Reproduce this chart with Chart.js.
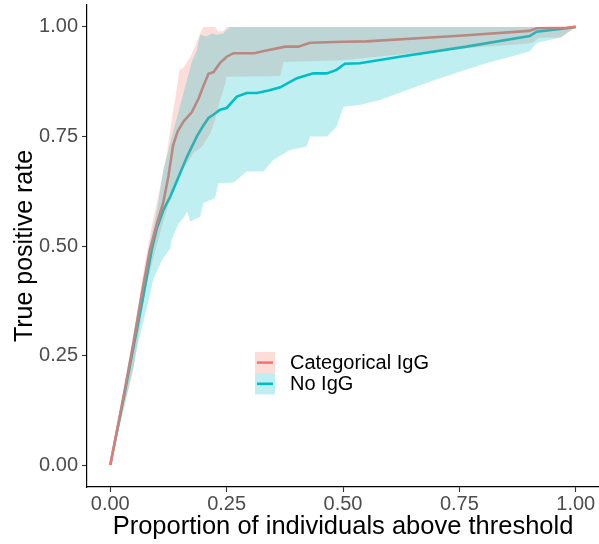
<!DOCTYPE html>
<html><head><meta charset="utf-8">
<script src="https://cdn.jsdelivr.net/npm/chart.js@4.4.1/dist/chart.umd.min.js"></script>
<style>html,body{margin:0;padding:0;background:#fff;}canvas{display:block}</style>
</head><body>
<canvas id="c" width="599" height="544" style="width:599px;height:544px"></canvas>
<script>
const seriesNames = ['Categorical IgG', 'No IgG'];
const xTicks = [0, 0.25, 0.5, 0.75, 1];
const yTicks = [0, 0.25, 0.5, 0.75, 1];
const xTitle = 'Proportion of individuals above threshold';
const yTitle = 'True positive rate';

// Categorical IgG: curve and band
const catLine = [[0,0],[0.03,0.165],[0.05,0.28],[0.07,0.405],[0.085,0.49],[0.1,0.55],[0.114,0.6],[0.125,0.66],[0.135,0.73],[0.145,0.762],[0.158,0.785],[0.175,0.805],[0.19,0.837],[0.2,0.865],[0.211,0.893],[0.222,0.897],[0.236,0.918],[0.25,0.932],[0.265,0.94],[0.31,0.94],[0.33,0.945],[0.358,0.951],[0.376,0.955],[0.404,0.955],[0.429,0.964],[0.5,0.966],[0.55,0.967],[0.75,0.98],[0.9,0.991],[0.916,0.997],[0.98,0.998],[1,1]];
const catUpper = [[0,0],[0.04,0.235],[0.06,0.365],[0.075,0.465],[0.09,0.55],[0.1,0.598],[0.122,0.712],[0.132,0.788],[0.139,0.833],[0.149,0.902],[0.157,0.906],[0.172,0.932],[0.182,0.955],[0.193,0.985],[0.2,1],[0.225,1],[0.232,0.99],[0.242,0.99],[0.25,1],[1,1]];
const catLower = [[0,0],[0.05,0.22],[0.075,0.4],[0.097,0.491],[0.115,0.56],[0.136,0.636],[0.15,0.665],[0.165,0.689],[0.179,0.712],[0.197,0.727],[0.215,0.757],[0.225,0.788],[0.235,0.83],[0.247,0.871],[0.25,0.886],[0.365,0.888],[0.372,0.92],[0.5,0.924],[0.6,0.935],[0.75,0.95],[0.9,0.962],[0.91,0.966],[0.92,0.975],[0.97,0.976],[1,1]];

// No IgG: curve and band
const noLine = [[0,0],[0.03,0.16],[0.05,0.27],[0.07,0.38],[0.089,0.491],[0.1,0.54],[0.114,0.582],[0.129,0.613],[0.15,0.666],[0.165,0.704],[0.186,0.75],[0.2,0.775],[0.211,0.792],[0.222,0.8],[0.236,0.811],[0.25,0.815],[0.272,0.841],[0.293,0.849],[0.315,0.849],[0.34,0.855],[0.365,0.862],[0.401,0.883],[0.436,0.894],[0.465,0.894],[0.486,0.902],[0.504,0.916],[0.536,0.917],[0.622,0.932],[0.765,0.955],[0.901,0.979],[0.916,0.989],[0.98,0.997],[1,1]];
const noUpper = [[0,0],[0.05,0.3],[0.082,0.491],[0.1,0.58],[0.114,0.674],[0.136,0.765],[0.161,0.864],[0.175,0.92],[0.186,0.947],[0.193,0.982],[0.207,0.978],[0.218,0.985],[0.229,0.982],[0.243,0.985],[0.25,0.993],[0.257,1],[1,1]];
const noLower = [[0,0],[0.05,0.224],[0.061,0.285],[0.079,0.361],[0.093,0.426],[0.111,0.468],[0.129,0.495],[0.132,0.514],[0.147,0.552],[0.158,0.565],[0.165,0.579],[0.172,0.556],[0.193,0.567],[0.2,0.598],[0.225,0.609],[0.232,0.643],[0.265,0.645],[0.293,0.67],[0.329,0.67],[0.35,0.696],[0.386,0.719],[0.422,0.727],[0.429,0.75],[0.465,0.75],[0.486,0.772],[0.501,0.818],[0.536,0.822],[0.579,0.833],[0.7,0.88],[0.8,0.915],[0.901,0.944],[0.916,0.963],[0.944,0.97],[0.966,0.976],[1,1]];

const RED = '#F8766D', TEAL = '#00BFC4';
const RED_FILL = 'rgba(248,118,109,0.25)', TEAL_FILL = 'rgba(0,191,196,0.25)';
const FONT = "'Liberation Sans', Arial, Helvetica, sans-serif";

const pts = a => a.map(p => ({x: p[0], y: p[1]}));
const lineDs = (label, data, color) => ({label, data: pts(data), borderColor: color, borderWidth: 2.6, pointRadius: 0, fill: false, tension: 0, order: 3});
const bandDs = (data, color, fill, order) => ({label: '', data: pts(data), borderWidth: 0, borderColor: 'rgba(0,0,0,0)', backgroundColor: color, pointRadius: 0, fill, tension: 0, order});

const legendPlugin = {
  id: 'ggLegend',
  afterDraw(chart) {
    const ctx = chart.ctx;
    const keys = [[RED_FILL, RED], [TEAL_FILL, TEAL]];
    const x0 = 255, y0 = 352, w = 20, h = 21.2;
    ctx.save();
    seriesNames.forEach((name, i) => {
      const y = y0 + i * h;
      ctx.fillStyle = keys[i][0];
      ctx.fillRect(x0, y, w, h);
      ctx.strokeStyle = keys[i][1];
      ctx.lineWidth = 2.6;
      ctx.beginPath();
      ctx.moveTo(x0 + 2, y + h / 2);
      ctx.lineTo(x0 + w - 2, y + h / 2);
      ctx.stroke();
      ctx.fillStyle = '#000';
      ctx.font = '20px ' + FONT;
      ctx.textBaseline = 'middle';
      ctx.textAlign = 'left';
      ctx.fillText(name, 290, y + h / 2 + 1);
    });
    ctx.restore();
  }
};

new Chart(document.getElementById('c'), {
  type: 'line',
  data: {
    datasets: [
      lineDs(seriesNames[0], catLine, RED),
      lineDs(seriesNames[1], noLine, TEAL),
      bandDs(catUpper, RED_FILL, 3, 2),
      bandDs(catLower, RED_FILL, false, 2),
      bandDs(noUpper, TEAL_FILL, 5, 1),
      bandDs(noLower, TEAL_FILL, false, 1)
    ]
  },
  options: {
    responsive: false,
    animation: false,
    events: [],
    layout: {padding: {top: 5, right: 0, left: 0, bottom: 0}},
    plugins: {legend: {display: false}, tooltip: {enabled: false}},
    scales: {
      x: {
        type: 'linear', min: -0.05, max: 1.05,
        afterBuildTicks: s => { s.ticks = xTicks.map(v => ({value: v})); },
        afterFit: s => { s.height = 57; s.paddingLeft = 0; s.paddingRight = 0; },
        ticks: {color: '#4D4D4D', font: {family: FONT, size: 20}, padding: 0, maxRotation: 0, autoSkip: false,
          callback: v => Number(v).toFixed(2)},
        grid: {drawOnChartArea: false, drawTicks: true, tickLength: 5, tickColor: '#333333', tickWidth: 1.1},
        border: {display: true, color: '#000', width: 1.2},
        title: {display: true, text: xTitle, color: '#000', font: {family: FONT, size: 25.5}, padding: {top: 0, bottom: 2}}
      },
      y: {
        type: 'linear', min: -0.05, max: 1.05,
        afterBuildTicks: s => { s.ticks = yTicks.map(v => ({value: v})); },
        afterFit: s => { s.width = 87; s.paddingTop = 0; s.paddingBottom = 0; },
        ticks: {color: '#4D4D4D', font: {family: FONT, size: 20}, padding: 4, autoSkip: false,
          callback: v => Number(v).toFixed(2)},
        grid: {drawOnChartArea: false, drawTicks: true, tickLength: 5, tickColor: '#333333', tickWidth: 1.1},
        border: {display: true, color: '#000', width: 1.2},
        title: {display: true, text: yTitle, color: '#000', font: {family: FONT, size: 25}, padding: {top: 10, bottom: 0}}
      }
    }
  },
  plugins: [legendPlugin]
});
</script>
</body></html>
